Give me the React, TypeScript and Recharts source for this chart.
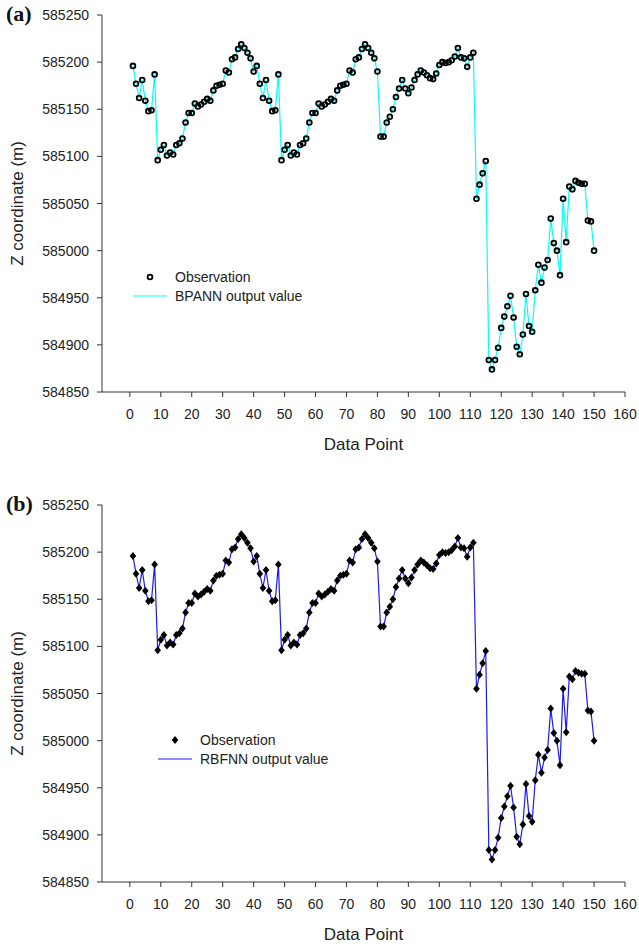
import React from "react";
import { LineChart, Line, XAxis, YAxis, Legend, Label } from "recharts";

const FONT = '"Liberation Sans", Arial, Helvetica, sans-serif';

const observedZ = [
  585196, 585177, 585162, 585181, 585159, 585148, 585149, 585187, 585096, 585107,
  585112, 585101, 585104, 585102, 585112, 585114, 585119, 585136, 585146, 585146,
  585156, 585153, 585155, 585158, 585161, 585159, 585170, 585175, 585176, 585177,
  585191, 585189, 585203, 585205, 585214, 585219, 585215, 585210, 585204, 585190,
  585196, 585177, 585162, 585181, 585159, 585148, 585149, 585187, 585096, 585107,
  585112, 585101, 585104, 585102, 585112, 585114, 585119, 585136, 585146, 585146,
  585156, 585153, 585155, 585158, 585161, 585159, 585170, 585175, 585176, 585177,
  585191, 585189, 585203, 585205, 585214, 585219, 585215, 585210, 585204, 585190,
  585121, 585121, 585136, 585142, 585150, 585163, 585172, 585181, 585172, 585167,
  585173, 585181, 585187, 585191, 585189, 585186, 585183, 585182, 585188, 585197,
  585200, 585199, 585200, 585202, 585206, 585215, 585205, 585204, 585195, 585205,
  585210, 585055, 585070, 585082, 585095, 584884, 584874, 584884, 584897, 584918,
  584930, 584941, 584952, 584929, 584898, 584890, 584911, 584954, 584920, 584914,
  584958, 584985, 584966, 584982, 584990, 585034, 585008, 585000, 584974, 585055,
  585009, 585068, 585065, 585074, 585072, 585071, 585071, 585032, 585031, 585000,
];

// the network outputs sit on top of the observations at this scale
const bpannOutput = observedZ;
const rbfnnOutput = observedZ;

const xTicks = [0, 10, 20, 30, 40, 50, 60, 70, 80, 90, 100, 110, 120, 130, 140, 150, 160];
const yTicks = [584850, 584900, 584950, 585000, 585050, 585100, 585150, 585200, 585250];

const rows = observedZ.map((z, i) => ({
  point: i + 1,
  obs: z,
  bpann: bpannOutput[i],
  rbfnn: rbfnnOutput[i],
}));

const W = 639;
const H = 454;

function XTick(props: any) {
  const { x, y, payload } = props;
  return (
    <text x={x} y={y + 22} textAnchor="middle" fontSize={14} fill="#222" fontFamily={FONT}>
      {payload.value}
    </text>
  );
}

function YTick(props: any) {
  const { x, y, payload } = props;
  return (
    <text x={x - 8} y={y + 5} textAnchor="end" fontSize={14} fill="#222" fontFamily={FONT}>
      {payload.value}
    </text>
  );
}

const circleDot = (p: any) => (
  <circle key={`c${p.index}`} cx={p.cx} cy={p.cy} r={2.4} fill="none" stroke="#000" strokeWidth={1.8} />
);

const diamondDot = (p: any) => (
  <path
    key={`d${p.index}`}
    d={`M${p.cx},${p.cy - 4}L${p.cx + 3.3},${p.cy}L${p.cx},${p.cy + 4}L${p.cx - 3.3},${p.cy}Z`}
    fill="#000"
  />
);

interface PanelProps {
  letter: string;
  lineKey: string;
  lineColor: string;
  lineName: string;
  marker: "circle" | "diamond";
  legendX: number;
  legendY: number;
}

function Panel({ letter, lineKey, lineColor, lineName, marker, legendX, legendY }: PanelProps) {
  const renderLegend = () => (
    <svg width={W} height={H} style={{ display: "block" }}>
      {marker === "circle" ? (
        <circle cx={legendX + 17} cy={legendY} r={2.4} fill="none" stroke="#000" strokeWidth={1.8} />
      ) : (
        <path
          d={`M${legendX + 17},${legendY - 4}L${legendX + 20.3},${legendY}L${legendX + 17},${legendY + 4}L${legendX + 13.7},${legendY}Z`}
          fill="#000"
        />
      )}
      <text x={legendX + 42} y={legendY + 5} fontSize={14} fill="#222" fontFamily={FONT}>
        Observation
      </text>
      <line x1={legendX} x2={legendX + 34} y1={legendY + 19} y2={legendY + 19} stroke={lineColor} strokeWidth={1.2} />
      <text x={legendX + 42} y={legendY + 24} fontSize={14} fill="#222" fontFamily={FONT}>
        {lineName}
      </text>
    </svg>
  );

  return (
    <div style={{ position: "relative", width: W, height: H }}>
      <LineChart width={W} height={H} data={rows} margin={{ top: 15, right: 14, bottom: 0, left: 0 }}>
        <XAxis
          dataKey="point"
          type="number"
          domain={[-9, 160]}
          ticks={xTicks}
          interval={0}
          allowDataOverflow
          height={62}
          tickSize={5}
          tickMargin={0}
          stroke="#333"
          tick={<XTick />}
        >
          <Label
            content={(p: any) => (
              <text
                x={p.viewBox.x + p.viewBox.width / 2}
                y={p.viewBox.y + 58}
                textAnchor="middle"
                fontSize={17}
                fill="#222"
                fontFamily={FONT}
              >
                Data Point
              </text>
            )}
          />
        </XAxis>
        <YAxis
          type="number"
          domain={[584850, 585250]}
          ticks={yTicks}
          interval={0}
          width={102}
          tickSize={5}
          tickMargin={0}
          stroke="#333"
          tick={<YTick />}
        >
          <Label
            content={(p: any) => {
              const cy = p.viewBox.y + p.viewBox.height / 2;
              return (
                <text
                  transform={`translate(23, ${cy}) rotate(-90)`}
                  textAnchor="middle"
                  fontSize={17}
                  fill="#222"
                  fontFamily={FONT}
                >
                  Z coordinate (m)
                </text>
              );
            }}
          />
        </YAxis>
        <Legend
          layout="vertical"
          align="center"
          verticalAlign="middle"
          wrapperStyle={{ left: 0, top: 0, width: W, height: H, pointerEvents: "none" }}
          content={renderLegend}
        />
        <Line
          dataKey={lineKey}
          stroke={lineColor}
          strokeWidth={1.2}
          dot={false}
          activeDot={false}
          isAnimationActive={false}
        />
        <Line
          dataKey="obs"
          stroke="none"
          dot={marker === "circle" ? circleDot : diamondDot}
          activeDot={false}
          isAnimationActive={false}
        />
      </LineChart>
      <div
        style={{
          position: "absolute",
          left: 6,
          top: 2,
          fontFamily: '"Liberation Serif", "Times New Roman", serif',
          fontWeight: "bold",
          fontSize: 22,
          lineHeight: "24px",
          color: "#111",
        }}
      >
        {letter}
      </div>
    </div>
  );
}

export default function App() {
  return (
    <div style={{ position: "absolute", left: 0, top: 0, width: W, background: "#fff" }}>
      <div style={{ height: 490, position: "relative" }}>
        <Panel letter="(a)" lineKey="bpann" lineColor="#00ffff" lineName="BPANN output value" marker="circle" legendX={133} legendY={277} />
      </div>
      <Panel letter="(b)" lineKey="rbfnn" lineColor="#1a1aff" lineName="RBFNN output value" marker="diamond" legendX={158} legendY={250} />
    </div>
  );
}
